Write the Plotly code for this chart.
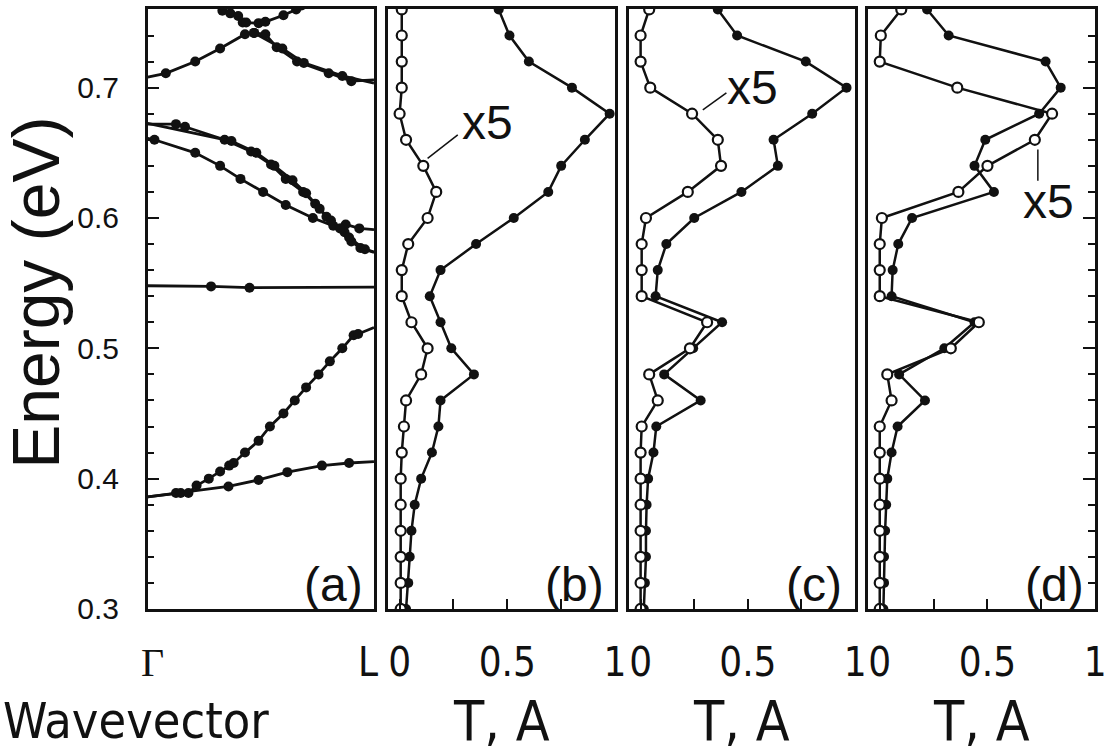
import plotly.graph_objects as go

# ---------------------------------------------------------------------------
# Spectra: photon energy (eV), transmission (x5) and absorption
# ---------------------------------------------------------------------------
energy = [0.30, 0.32, 0.34, 0.36, 0.38, 0.40, 0.42, 0.44, 0.46, 0.48, 0.50, 0.52,
          0.54, 0.56, 0.58, 0.60, 0.62, 0.64, 0.66, 0.68, 0.70, 0.72, 0.74, 0.76]

trans_b = [0.005, 0.005, 0.005, 0.005, 0.005, 0.005, 0.01, 0.02, 0.03, 0.10, 0.13, 0.055,
           0.01, 0.01, 0.04, 0.13, 0.17, 0.11, 0.03, 0.00, 0.01, 0.01, 0.01, 0.01]
absorb_b = [0.03, 0.04, 0.047, 0.055, 0.07, 0.10, 0.15, 0.18, 0.19, 0.345, 0.24, 0.19,
            0.14, 0.19, 0.355, 0.53, 0.69, 0.75, 0.86, 0.975, 0.80, 0.60, 0.51, 0.46]

trans_c = [0.0, 0.0, 0.0, 0.0, 0.0, 0.0, 0.0, 0.005, 0.08, 0.04, 0.23, 0.31,
           0.005, 0.005, 0.005, 0.025, 0.22, 0.375, 0.36, 0.24, 0.045, 0.0, 0.0, 0.04]
absorb_c = [0.015, 0.02, 0.025, 0.025, 0.028, 0.035, 0.06, 0.073, 0.28, 0.11, 0.245, 0.38,
            0.07, 0.08, 0.12, 0.25, 0.47, 0.64, 0.62, 0.80, 0.96, 0.77, 0.45, 0.36]

trans_d = [0.0, 0.0, 0.0, 0.0, 0.0, 0.0, 0.0, 0.0, 0.055, 0.035, 0.33, 0.46,
           0.0, 0.0, 0.0, 0.01, 0.365, 0.50, 0.72, 0.80, 0.36, 0.0, 0.005, 0.10]
absorb_d = [0.017, 0.02, 0.02, 0.025, 0.03, 0.035, 0.055, 0.083, 0.21, 0.09, 0.30, 0.44,
            0.055, 0.06, 0.086, 0.15, 0.53, 0.44, 0.49, 0.74, 0.84, 0.77, 0.32, 0.22]

# ---------------------------------------------------------------------------
# Photonic bands along Gamma-L (k as a fraction of Gamma-L, energy in eV)
# ---------------------------------------------------------------------------
band1_k = [0.0, 0.357, 0.49, 0.617, 0.77, 0.89, 1.0]
band1_e = [0.386, 0.394, 0.399, 0.405, 0.410, 0.412, 0.413]

band2_k = [0.0, 0.125, 0.146, 0.18, 0.216, 0.27, 0.32, 0.36, 0.38, 0.43, 0.49, 0.54,
           0.60, 0.65, 0.70, 0.755, 0.805, 0.86, 0.91, 0.93, 1.0]
band2_e = [0.386, 0.389, 0.389, 0.389, 0.3947, 0.400, 0.4055, 0.410, 0.412, 0.420, 0.429, 0.440,
           0.450, 0.460, 0.470, 0.480, 0.490, 0.500, 0.510, 0.511, 0.516]

band3_k = [0.0, 0.28, 0.45, 1.0]
band3_e = [0.548, 0.5475, 0.5465, 0.547]

band4_k = [0.0, 0.03, 0.21, 0.32, 0.41, 0.51, 0.61, 0.73, 0.82, 0.875, 0.935, 1.0]
band4_e = [0.661, 0.660, 0.650, 0.640, 0.630, 0.620, 0.610, 0.600, 0.594, 0.595, 0.592, 0.591]

band5_k = [0.0, 0.125, 0.165, 0.34, 0.457, 0.545, 0.61, 0.687, 0.74, 0.79, 0.87, 0.90, 0.94, 1.0]
band5_e = [0.672, 0.672, 0.670, 0.660, 0.651, 0.641, 0.630, 0.620, 0.611, 0.601, 0.589, 0.582, 0.577, 0.574]

band6_k = [0.0, 0.37, 0.48, 0.56, 0.64, 0.70, 0.76, 0.81, 0.85, 0.89, 0.96, 1.0]
band6_e = [0.6725, 0.659, 0.650, 0.640, 0.629, 0.619, 0.607, 0.598, 0.592, 0.585, 0.576, 0.5735]

band7_k = [0.0, 0.08, 0.21, 0.32, 0.43, 0.47, 0.52, 0.57, 0.66, 0.80, 0.90, 1.0]
band7_e = [0.708, 0.711, 0.720, 0.730, 0.741, 0.742, 0.741, 0.731, 0.720, 0.711, 0.705, 0.706]

band8_k = [0.47, 0.595, 0.69, 0.86, 1.0]
band8_e = [0.742, 0.730, 0.719, 0.709, 0.7035]

band9_k = [0.30, 0.33, 0.365, 0.40, 0.42, 0.435, 0.49, 0.52, 0.60, 0.656, 0.68]
band9_e = [0.765, 0.759, 0.757, 0.755, 0.750, 0.750, 0.7495, 0.7505, 0.7555, 0.760, 0.763]

bands = [(band1_k, band1_e), (band2_k, band2_e), (band3_k, band3_e), (band4_k, band4_e),
         (band5_k, band5_e), (band6_k, band6_e), (band7_k, band7_e), (band8_k, band8_e),
         (band9_k, band9_e)]

# high-symmetry point labels of the wavevector axis
kpoint_labels = ["Γ", "L"]

INK = "#111111"
SANS = "Liberation Sans, Arial, sans-serif"
NARROW = "DejaVu Sans Condensed, Liberation Sans Narrow, Arial Narrow, Liberation Sans, sans-serif"
SERIF_SPAN = '<span style="font-family:Liberation Serif, Times New Roman, serif">{}</span>'

W, H = 1116, 755
# panel frames in pixels (left, right), shared top/bottom
panel_px = [(143, 373), (387, 618), (632, 862), (875, 1106)]
top_px, bottom_px = 9, 623
y_dom = [1 - bottom_px / H, 1 - top_px / H]
E_RANGE = [0.30, 0.7605]

fig = go.Figure()

# --- (a) band structure: the zone-boundary ends of each band carry no dot
for k, e in bands:
    sizes = [0 if kk in (0.0, 1.0) else 10 for kk in k]
    fig.add_trace(go.Scatter(
        x=k, y=e, mode="lines+markers", xaxis="x", yaxis="y",
        line=dict(color=INK, width=2.8),
        marker=dict(color=INK, size=sizes, opacity=1, line=dict(width=0)),
        hoverinfo="skip"))

# --- (b)-(d) absorption (filled) and transmission x5 (open)
spectra = [(trans_b, absorb_b), (trans_c, absorb_c), (trans_d, absorb_d)]
for i, (tr, ab) in enumerate(spectra, start=2):
    fig.add_trace(go.Scatter(
        x=ab, y=energy, mode="lines+markers", xaxis=f"x{i}", yaxis=f"y{i}",
        line=dict(color=INK, width=2.5),
        marker=dict(color=INK, size=10, opacity=1, line=dict(width=0)),
        hoverinfo="skip"))
    fig.add_trace(go.Scatter(
        x=tr, y=energy, mode="lines+markers", xaxis=f"x{i}", yaxis=f"y{i}",
        line=dict(color=INK, width=2.5),
        marker=dict(color="white", size=10, symbol="circle", opacity=1,
                    line=dict(color=INK, width=2.2)),
        hoverinfo="skip"))

frame = dict(showline=True, linewidth=2.5, linecolor=INK, mirror=True,
             showgrid=False, zeroline=False)

e_ticks = dict(ticks="inside", tick0=0.3, dtick=0.1, ticklen=12, tickwidth=2,
               tickcolor=INK,
               minor=dict(ticks="inside", tick0=0.3, dtick=0.02, ticklen=7,
                          tickwidth=2, tickcolor=INK))

layout = dict(
    width=W, height=H, margin=dict(l=0, r=0, t=0, b=0),
    paper_bgcolor="white", plot_bgcolor="white", showlegend=False,
)

for n, (x0, x1) in enumerate(panel_px, start=1):
    sfx = "" if n == 1 else str(n)
    xa = dict(frame, domain=[x0 / W, x1 / W], anchor=f"y{sfx}")
    ya = dict(frame, domain=y_dom, range=E_RANGE, anchor=f"x{sfx}")
    if n == 1:
        # labels sit just inside the zone ends
        xa.update(range=[0, 1], tickvals=[0.022, 0.974],
                  ticktext=[SERIF_SPAN.format(kpoint_labels[0]), kpoint_labels[1]],
                  ticks="", ticklabelstandoff=16,
                  tickfont=dict(family=NARROW, size=40, color=INK))
        ya.update(e_ticks, tickformat=".1f", ticklabelstandoff=20,
                  tickfont=dict(family=SANS, size=30, color=INK))
    else:
        xa.update(range=[-0.055, 1.0], tickvals=[0, 0.25, 0.5, 0.75, 1],
                  ticktext=["0", "", "0.5", "", "1"], ticks="inside",
                  ticklen=10, tickwidth=2, tickcolor=INK, ticklabelstandoff=16,
                  tickfont=dict(family=NARROW, size=40, color=INK))
        if n == 4:
            ya.update(e_ticks, side="right", showticklabels=False)
        else:
            ya.update(ticks="", showticklabels=False)
    layout[f"xaxis{sfx}"] = xa
    layout[f"yaxis{sfx}"] = ya

fig.update_layout(**layout)

# panel letters
for n, letter in enumerate(["(a)", "(b)", "(c)", "(d)"], start=1):
    sfx = "" if n == 1 else str(n)
    fig.add_annotation(text=letter, xref=f"x{sfx} domain", yref=f"y{sfx} domain",
                       x=0.82, y=0.04, xanchor="center", yanchor="middle",
                       showarrow=False, font=dict(family=SANS, size=48, color=INK))

# x5 markers for the scaled transmission curves
x5_labels = [("x2", "y2", 0.407, 0.6735), ("x3", "y3", 0.52, 0.6998), ("x4", "y4", 0.785, 0.6128)]
for xr, yr, xv, ev in x5_labels:
    fig.add_annotation(text="x5", xref=xr, yref=yr, x=xv, y=ev,
                       xanchor="center", yanchor="middle", showarrow=False,
                       font=dict(family=SANS, size=48, color=INK))

x5_leaders = [("x2", "y2", 0.13, 0.6458, 0.27, 0.6638),
              ("x3", "y3", 0.29, 0.683, 0.40, 0.696),
              ("x4", "y4", 0.734, 0.6525, 0.734, 0.6285)]
for xr, yr, xa0, ya0, xa1, ya1 in x5_leaders:
    fig.add_shape(type="line", xref=xr, yref=yr, x0=xa0, y0=ya0, x1=xa1, y1=ya1,
                  line=dict(color=INK, width=1.5))

# axis titles
fig.add_annotation(text="Energy (eV)", xref="paper", yref="paper",
                   x=30 / W, y=1 - 300 / H, textangle=-90,
                   xanchor="center", yanchor="middle", showarrow=False,
                   font=dict(family=SANS, size=66, color=INK))
fig.add_annotation(text="Wavevector", xref="paper", yref="paper",
                   x=131 / W, y=1 - 738 / H, xanchor="center", yanchor="middle",
                   showarrow=False, font=dict(family=NARROW, size=50, color=INK))
for cx in (503, 747, 990):
    fig.add_annotation(text="T, A", xref="paper", yref="paper",
                       x=cx / W, y=1 - 738 / H, xanchor="center", yanchor="middle",
                       showarrow=False, font=dict(family=NARROW, size=55, color=INK))

fig.write_html("out.html")
